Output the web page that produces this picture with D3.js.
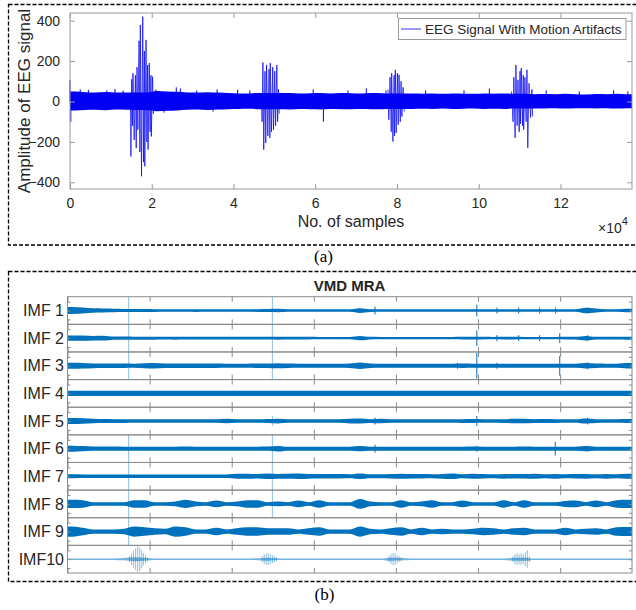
<!DOCTYPE html>
<head>
<meta charset="utf-8">
<title>EEG Signal With Motion Artifacts / VMD MRA</title>
<script src="https://d3js.org/d3.v7.min.js"></script>
<style>
body { margin: 0; background: #fff; }
svg { display: block; }
text { font-family: "Liberation Sans", Arial, sans-serif; fill: #262626; }
.cap { font-family: "Liberation Serif", "Times New Roman", serif; font-size: 17px; fill: #000; }
</style>
</head>
<body>
<div id="chart"></div>
<script>

//------------------------1. DATA------------------------//
// all x values are in units of 10^4 samples; envelopes use one value per 0.25e4 bin
const binStep = 0.25;
const xMax = 13.75;
const xTicks = [0, 2, 4, 6, 8, 10, 12];
const yTicksA = [-400, -200, 0, 200, 400];

// (a) background EEG band, upper and lower edge per bin
const eegHi = [50,46,45,47,44,45,45,45,52,50, 48,45,44,46,44,42,40,40,42,42,
               42,42,40,41,42,40,42,41,40,42, 41,40,40,40,39,40,38,40,39,38,
               40,39,40,38,38,36,37,36,38,36, 35,37,36,38,36];
const eegLo = [-45,-42,-41,-43,-40,-41,-42,-42,-48,-46, -44,-41,-40,-42,-40,-38,-37,-36,-38,-38,
               -38,-39,-37,-38,-39,-37,-38,-38,-37,-38, -38,-37,-37,-37,-36,-37,-35,-37,-36,-35,
               -37,-36,-37,-35,-35,-34,-34,-33,-35,-33, -33,-34,-33,-35,-33];
// single noise spikes sticking out of the band [x, amplitude]
const eegSpikes = [[0.0,105],[0.02,-100],[0.25,60],[0.45,58],[0.9,55],[1.1,62],[1.3,55],
                   [2.1,60],[2.3,-55],[2.6,70],[2.7,65],[3.1,55],[3.5,-50],[3.6,60],[4.1,58],[4.4,55],
                   [5.95,60],[6.2,-100],[6.8,55],[7.25,65],[7.73,55],[8.7,55],[9.64,55],[10.26,65],
                   [11.65,55],[12.46,50],[13.3,55],[13.65,50]];
// motion artifact bursts, oscillation peaks [x, amplitude]
const burst1 = [[1.48,20],[1.49,-272],[1.51,110],[1.53,-120],[1.54,140],[1.57,-190],[1.60,130],[1.62,-230],
                [1.64,170],[1.66,-140],[1.69,300],[1.71,-250],[1.72,379],[1.75,-370],[1.78,420],[1.80,-300],
                [1.82,250],[1.83,-321],[1.86,305],[1.88,-200],[1.90,180],[1.91,-238],[1.94,190],[1.96,-150],
                [1.98,130],[1.99,-173],[2.02,123],[2.04,-60],[2.06,40]];
const burst2 = [[4.68,40],[4.70,-100],[4.72,193],[4.74,-238],[4.77,150],[4.79,-205],[4.81,181],[4.84,-170],
                [4.87,160],[4.89,-180],[4.90,190],[4.93,-150],[4.96,170],[4.98,-140],[5.01,150],[5.03,-120],
                [5.06,181],[5.08,-100],[5.10,60],[5.12,-60]];
const burst3 = [[7.78,60],[7.80,-90],[7.83,120],[7.86,-150],[7.87,140],[7.90,-198],[7.93,130],[7.94,-170],
                [7.96,157],[7.98,-155],[8.01,140],[8.03,-115],[8.05,132],[8.08,-100],[8.10,100],[8.12,-74],
                [8.15,70],[8.18,-50]];
const burst4 = [[10.80,50],[10.84,-100],[10.86,120],[10.89,-180],[10.91,181],[10.94,-120],[10.96,107],[10.99,-150],
                [11.01,150],[11.02,-110],[11.04,165],[11.07,-120],[11.09,130],[11.10,-140],[11.13,120],[11.16,-100],
                [11.18,157],[11.20,-229],[11.23,90],[11.27,-80],[11.30,60],[11.32,-74]];

// (b) VMD modes, half-width of each mode's band per bin (normalised amplitude, row range -14..14)
const imfNames = ["IMF 1","IMF 2","IMF 3","IMF 4","IMF 5","IMF 6","IMF 7","IMF 8","IMF 9","IMF10"];
const imf1 = [3.5,3,2.2,2,1.8,1.6,1.5,1.5,1.4,1.3, 1.3,1.3,1.4,1.3,1.3,1.3,1.3,1.3,1.4,1.6,
              1.8,1.3,1.3,1.3,1.2,1.2,1.2,1.3,2.4,1.4, 1.3,1.2,1.2,1.2,1.2,1.2,1.2,1.2,1.2,1.3,
              1.3,1.3,1.2,1.3,1.2,1.3,1.2,1.3,1.2,1.3, 2.8,2,1.3,1.3,1.8];
const imf2 = [2.6,2.6,2.3,2.5,1.6,1.6,1.5,1.5,1.5,1.4, 1.5,1.4,1.4,1.4,1.3,1.3,1.3,1.3,1.3,1.4,
              1.5,1.3,1.3,1.3,1.2,1.2,1.2,1.2,2.2,1.3, 1.2,1.2,1.2,1.2,1.2,1.2,1.2,1.2,1.3,1.3,
              1.3,1.2,1.3,1.3,1.2,1.2,1.2,1.2,1.3,1.3, 2.3,1.4,1.3,1.3,1.5];
const imf3 = [3,2.8,2.4,2.3,2.2,2.2,2.1,2.6,2.8,2.3, 2.2,2.2,2.3,2.2,2.2,2.1,2.1,2.1,2.2,2.2,
              2.6,2.2,2.1,2.0,2.0,2.0,2.0,2.2,3.2,2.2, 2.0,2.0,2.0,2.0,2.0,2.0,2.0,2.1,2.2,2.1,
              2.0,2.0,2.1,2.0,2.1,2.0,2.0,2.1,2.1,2.1, 2.8,2.2,2.1,2.1,2.8];
const imf4 = [2.7,2.7,2.6,2.6,2.6,2.7,2.6,2.6,2.6,2.7, 2.6,2.6,2.7,2.6,2.6,2.6,2.7,2.6,2.6,2.6,
              2.7,2.6,2.6,2.6,2.7,2.6,2.6,2.6,2.7,2.6, 2.6,2.6,2.6,2.6,2.6,2.6,2.7,2.6,2.6,2.6,
              2.6,2.6,2.6,2.6,2.7,2.6,2.6,2.6,2.6,2.6, 2.7,2.6,2.6,2.6,2.6];
const imf5 = [3,2.8,2.2,2.0,1.9,1.9,1.8,1.8,1.8,1.8, 1.8,1.8,1.8,1.8,1.8,2.2,1.8,1.8,1.8,2.0,
              2.4,1.8,1.8,1.8,1.8,1.8,1.8,2.4,2.5,1.9, 2.2,1.8,1.8,1.8,1.8,1.8,1.8,1.8,1.9,2.0,
              1.8,1.8,1.9,2.3,2.3,1.9,2.1,1.9,1.8,1.8, 2.6,1.9,1.8,1.8,2.0];
const imf6 = [3,2.6,2.2,2.1,2.1,2.0,2.0,2.0,2.0,2.0, 2.0,2.1,2.0,2.0,2.0,2.0,2.0,2.0,2.0,2.1,
              2.8,2.0,2.0,2.0,2.0,2.0,2.0,2.0,2.6,2.0, 2.0,2.0,2.0,2.0,2.0,2.0,2.0,2.0,2.0,2.1,
              2.0,2.0,2.0,2.0,2.2,2.0,2.0,2.0,2.0,2.0, 2.6,2.0,2.0,2.0,2.0];
const imf7 = [2,1.8,1.8,1.8,1.8,1.8,1.8,1.8,1.8,1.8, 1.8,1.8,1.8,1.8,1.8,1.8,2.5,2.6,2.2,2.8,
              2.4,2.6,2.8,2.4,2.2,2.2,2.2,2.0,2.8,2.0, 2.0,2.2,2.6,2.2,2.2,2.0,2.4,2.8,2.0,2.6,
              2.2,2.0,2.4,2.2,2.2,2.6,2.0,2.4,2.0,2.2, 2.4,2.0,2.4,2.0,2.6];
const imf8 = [4.2,3.8,1.8,1.8,1.8,1.8,3.8,3.8,1.8,1.8, 2.4,4.2,2.4,1.8,3.4,1.8,2.4,3.8,3.8,1.8,
              2.4,1.8,3.4,1.8,3.8,1.8,1.8,1.8,5,2.4, 1.8,1.8,3.8,1.8,2.4,3.8,1.8,1.8,3.4,1.8,
              1.8,1.8,3.8,1.8,3.8,1.8,1.8,1.8,3,3.4, 1.8,3.4,1.8,3.8,4.2];
const imf9 = [5.2,3.8,2.2,2.2,2.2,2.8,5.2,4.3,3.3,2.8, 5.2,4.3,2.2,2.2,3.8,2.2,3.3,4.3,4.3,3.3,
              3.3,3.3,2.2,3.3,4.3,2.2,2.2,2.2,5.2,2.8, 2.2,3.3,4.3,2.2,3.8,2.2,2.8,2.2,2.2,2.8,
              3.8,3.3,2.2,3.3,3.8,2.2,2.2,2.2,3.8,2.2, 2.8,3.3,2.2,4.3,4.6];
const imf10 = [0.7,0.7,0.7,0.7,0.7,1.2,2,1.5,0.7,0.7, 0.7,0.7,0.7,0.7,0.7,0.7,0.7,0.7,1,1.5,
               0.8,0.7,0.7,0.7,0.7,0.7,0.7,0.7,0.7,0.7, 0.7,1.5,1.2,0.7,0.7,0.7,0.7,0.7,0.7,0.7,
               0.7,0.7,0.7,1.5,1.5,0.7,0.7,0.7,0.7,0.7, 0.7,0.7,0.7,0.7,0.7];
// short spikes in each mode [x, half-height, faint]
const imf1Spikes = [[1.49,14,1],[4.99,14,1],[7.49,4,0],[9.97,6,0],[10.46,3,0],[10.99,3,0],[11.5,3,0],[11.89,3,0],[12.67,3,0]];
const imf2Spikes = [[1.49,14,1],[4.99,14,1],[9.97,8,0],[10.46,3,0],[10.99,3,0],[11.5,3,0],[11.99,5,0],[12.67,3,0]];
const imf3Spikes = [[1.49,14,1],[4.99,14,1],[9.50,3,0],[9.97,13,0],[10.46,3,0],[11.99,10,0],[12.67,3.5,0]];
const imf4Spikes = [];
const imf5Spikes = [[4.99,5,1],[7.49,3.5,0],[9.97,5,0],[12.67,3.5,0]];
const imf6Spikes = [[1.49,14,1],[4.99,14,1],[7.49,4,0],[9.97,3,0],[11.88,7,0],[12.67,3,0]];
const imf7Spikes = [[1.49,14,1],[4.99,14,1]];
const imf8Spikes = [[1.49,14,1],[4.99,14,1]];
const imf9Spikes = [[1.49,14,1]];
const imf10Spikes = [[1.51,3,1],[1.56,6,1],[1.61,9,1],[1.66,11,1],[1.71,13,1],[1.76,12,1],[1.81,9,1],[1.85,6,1],[1.90,4,1],[1.95,2,1],
                     [4.74,3,1],[4.79,5,1],[4.84,6,1],[4.89,6,1],[4.94,5,1],[4.99,4,1],[5.04,3,1],[5.09,2,1],
                     [7.83,3,1],[7.88,5,1],[7.93,6,1],[7.98,6,1],[8.03,4,1],[8.08,3,1],[8.13,2,1],
                     [10.85,3,1],[10.90,5,1],[10.95,6,1],[11.00,5,1],[11.05,6,1],[11.10,5,1],[11.15,7,1],[11.20,9,1],[11.25,3,1]];

const imfBands = [imf1,imf2,imf3,imf4,imf5,imf6,imf7,imf8,imf9,imf10];
const imfSpikes = [imf1Spikes,imf2Spikes,imf3Spikes,imf4Spikes,imf5Spikes,imf6Spikes,imf7Spikes,imf8Spikes,imf9Spikes,imf10Spikes];

//------------------------2. SVG------------------------//
const width = 636;
const height = 610;
const svg = d3.select("#chart").append("svg")
    .attr("width", width)
    .attr("height", height);

const blueA = "#0000f5";
const blueB = "#0072bd";
const frameCol = "#9a9a9a";

// one point per bin centre, plus the two ends of the record
function toPoints(values) {
    const pts = values.map(function(v, i) { return {x: (i + 0.5) * binStep, v: v}; });
    pts.unshift({x: 0, v: values[0]});
    pts.push({x: xMax, v: values[values.length - 1]});
    return pts;
}

// dashed panel borders
svg.append("rect").attr("x", 8.5).attr("y", 4.5).attr("width", 640).attr("height", 240.5)
    .attr("fill", "none").attr("stroke", "#000").attr("stroke-width", 1.3).attr("stroke-dasharray", "4,2");
svg.append("rect").attr("x", 8.5).attr("y", 271.5).attr("width", 640).attr("height", 310)
    .attr("fill", "none").attr("stroke", "#000").attr("stroke-width", 1.3).attr("stroke-dasharray", "4,2");

//------------------------3. PANEL (a)------------------------//
const xA = d3.scaleLinear().domain([0, xMax]).range([70, 632]);
const yA = d3.scaleLinear().domain([-433, 438]).range([189, 13]);

const gA = svg.append("g");

const hiPts = toPoints(eegHi);
const loPts = toPoints(eegLo);
const bandA = d3.area()
    .curve(d3.curveMonotoneX)
    .x(function(d) { return xA(d.x); })
    .y0(function(d, i) { return yA(loPts[i].v); })
    .y1(function(d) { return yA(d.v); });
gA.append("path").attr("d", bandA(hiPts)).attr("fill", blueA);

gA.selectAll("line.spk").data(eegSpikes).enter().append("line")
    .attr("x1", function(d) { return xA(d[0]); })
    .attr("x2", function(d) { return xA(d[0]); })
    .attr("y1", yA(0))
    .attr("y2", function(d) { return yA(d[1]); })
    .attr("stroke", blueA).attr("stroke-width", 1);

const burstLine = d3.line()
    .x(function(d) { return xA(d[0]); })
    .y(function(d) { return yA(d[1]); });
gA.selectAll("path.burst").data([burst1, burst2, burst3, burst4]).enter().append("path")
    .attr("d", burstLine)
    .attr("fill", "none").attr("stroke", blueA).attr("stroke-width", 0.9).attr("stroke-opacity", 0.8);

// axes
gA.append("rect").attr("x", 70).attr("y", 13).attr("width", 562).attr("height", 176)
    .attr("fill", "none").attr("stroke", frameCol);

const axA = [
    d3.axisBottom(xA).tickValues(xTicks).tickSizeInner(-5).tickSizeOuter(0).tickPadding(9),
    d3.axisTop(xA).tickValues(xTicks).tickSizeInner(-5).tickSizeOuter(0).tickFormat(""),
    d3.axisLeft(yA).tickValues(yTicksA).tickSizeInner(-5).tickSizeOuter(0).tickPadding(10),
    d3.axisRight(yA).tickValues(yTicksA).tickSizeInner(-5).tickSizeOuter(0).tickFormat("")
];
const axPos = ["translate(0,189)", "translate(0,13)", "translate(70,0)", "translate(632,0)"];
axA.forEach(function(ax, i) {
    const g = gA.append("g").attr("transform", axPos[i]).call(ax);
    g.select(".domain").remove();
    g.selectAll("line").attr("stroke", frameCol);
    g.selectAll("text").attr("font-size", 14).attr("font-family", null).attr("fill", "#262626");
});

gA.append("text")
    .attr("transform", "translate(30,101) rotate(-90)")
    .attr("text-anchor", "middle")
    .attr("font-size", 17)
    .text("Amplitude of EEG signal");
gA.append("text")
    .attr("x", 351).attr("y", 227)
    .attr("text-anchor", "middle")
    .attr("font-size", 16)
    .text("No. of samples");
const expo = gA.append("text").attr("x", 598).attr("y", 233).attr("font-size", 14);
expo.append("tspan").text("\u00d710");
expo.append("tspan").attr("dy", -8).attr("font-size", 11).text("4");

// legend
gA.append("rect").attr("x", 398.5).attr("y", 18.5).attr("width", 227.5).attr("height", 21)
    .attr("fill", "#fff").attr("stroke", frameCol);
gA.append("line").attr("x1", 401).attr("x2", 421).attr("y1", 29).attr("y2", 29)
    .attr("stroke", blueA).attr("stroke-width", 0.8);
gA.append("text").attr("x", 425).attr("y", 34).attr("font-size", 13.5)
    .text("EEG Signal With Motion Artifacts");

svg.append("text").attr("class", "cap").attr("x", 323.5).attr("y", 262)
    .attr("text-anchor", "middle").text("(a)");

//------------------------4. PANEL (b)------------------------//
const xB = d3.scaleLinear().domain([0, xMax]).range([67.5, 632]);
const rows = d3.scaleBand().domain(imfNames).range([296.7, 573]);

const gB = svg.append("g");
gB.append("text").attr("x", 349.5).attr("y", 290.5)
    .attr("text-anchor", "middle").attr("font-size", 15).attr("font-weight", "bold").attr("fill", "#000")
    .text("VMD MRA");

imfNames.forEach(function(name, r) {
    const top = rows(name);
    const bot = top + rows.bandwidth();
    const yB = d3.scaleLinear().domain([-14, 14]).range([bot, top]);
    const g = gB.append("g");
    const faint = r === 9;

    const band = d3.area()
        .curve(d3.curveMonotoneX)
        .x(function(d) { return xB(d.x); })
        .y0(function(d) { return yB(-d.v); })
        .y1(function(d) { return yB(d.v); });
    g.append("path").attr("d", band(toPoints(imfBands[r])))
        .attr("fill", blueB).attr("fill-opacity", faint ? 0.55 : 1);

    g.selectAll("line.spk").data(imfSpikes[r]).enter().append("line")
        .attr("x1", function(d) { return xB(d[0]); })
        .attr("x2", function(d) { return xB(d[0]); })
        .attr("y1", function(d) { return yB(-d[1]); })
        .attr("y2", function(d) { return yB(d[1]); })
        .attr("stroke", blueB).attr("stroke-width", 1)
        .attr("stroke-opacity", function(d) { return d[2] ? 0.45 : 1; });

    g.append("rect").attr("x", 67.5).attr("y", top).attr("width", 564.5).attr("height", rows.bandwidth())
        .attr("fill", "none").attr("stroke", "#8a8a8a");

    const axB = [
        [d3.axisBottom(xB).tickValues(xTicks).tickSizeInner(-5).tickSizeOuter(0).tickFormat(""), "translate(0," + bot + ")"],
        [d3.axisTop(xB).tickValues(xTicks).tickSizeInner(-5).tickSizeOuter(0).tickFormat(""), "translate(0," + top + ")"],
        [d3.axisLeft(yB).tickValues([-9, 0, 9]).tickSizeInner(-3).tickSizeOuter(0).tickFormat(""), "translate(67.5,0)"],
        [d3.axisRight(yB).tickValues([-9, 0, 9]).tickSizeInner(-3).tickSizeOuter(0).tickFormat(""), "translate(632,0)"]
    ];
    axB.forEach(function(a) {
        const ga = g.append("g").attr("transform", a[1]).call(a[0]);
        ga.select(".domain").remove();
        ga.selectAll("line").attr("stroke", "#8a8a8a");
    });

    g.append("text").attr("x", 64).attr("y", yB(0)).attr("dy", "0.35em")
        .attr("text-anchor", "end").attr("font-size", 16)
        .text(name);
});

svg.append("text").attr("class", "cap").attr("x", 324.5).attr("y", 600)
    .attr("text-anchor", "middle").text("(b)");

</script>
</body>
